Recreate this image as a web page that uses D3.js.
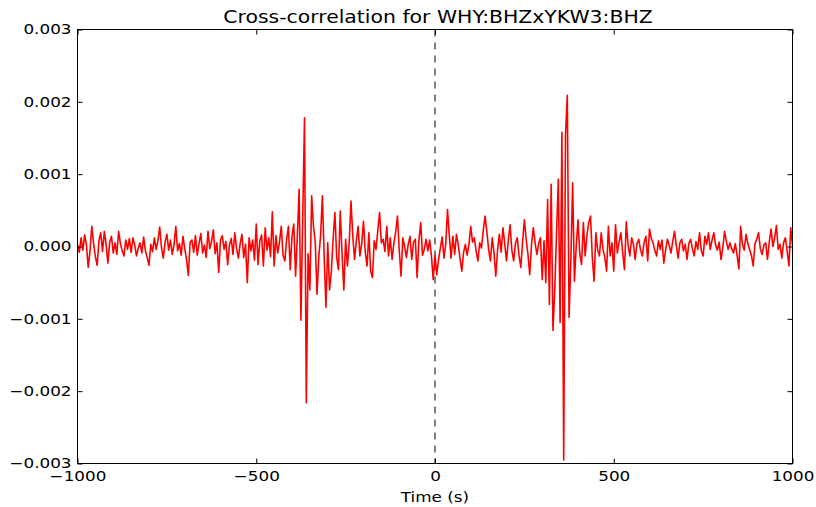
<!DOCTYPE html>
<html>
<head>
<meta charset="utf-8">
<script src="https://cdn.jsdelivr.net/npm/d3@7"></script>
<style>
  html, body { margin: 0; padding: 0; background: #fff; }
  svg { display: block; }
</style>
</head>
<body>
<svg id="chart" width="816" height="507"></svg>
<script>
// Cross-correlation WHY:BHZ x YKW3:BHZ, in units of 1e-4, one sample every 5 s of lag
const corrE4 = [
  0.3, -0.8, 1.2, -0.5, 1.6, 0.2, -2.9, -0.6, 2.8, 0.4, -1.4, -2.6, 0.8, 1.9, -0.7, 2.1, 0.3, -2.3, 0.6, 1.4,
  -0.9, 0.5, -1.1, 2.1, 0.4, -0.6, -1.3, 0.9, -0.4, 1.1, -0.8, 1.2, 0.2, -1.3, -0.2, 0.5, -0.9, 1.3, -0.6, -1.5,
  -2.6, 0.3, -0.7, 1.2, -0.4, 0.8, 2.7, -0.2, -1.6, 0.6, 1.7, -0.5, 0.9, -1.1, 0.2, 2.8, -0.6, 0.4, -1.2, 1.4,
  -0.3, -1.8, -4.0, 0.6, 0.9, -0.8, 1.5, -1.2, 0.4, 1.8, -0.9, 0.2, -1.5, 2.1, -0.3, 0.7, 2.3, -1.0, 0.5, -3.6,
  0.9, 1.5, -0.4, 0.7, -2.5, 0.2, 1.1, -1.1, 1.9, -0.3, -1.6, 0.4, 1.7, -1.5, 0.3, -5.0, 1.2, -0.6, 0.9, -1.9,
  3.1, -2.5, 0.8, 1.6, -2.7, 2.6, -0.5, 1.2, -1.4, 4.8, -2.7, 1.5, -0.9, 0.6, 2.8, -1.2, -2.0, 1.0, 2.8, -3.2,
  1.4, 3.1, -4.1, 1.5, 7.9, -10.2, 4.0, 17.8, -21.6, -1.0, -6.0, 7.0, 2.8, 0.7, -6.6, -1.4, 1.5, 7.0, -1.4, -8.4,
  0.5, -6.0, -3.5, 1.0, 4.7, -1.5, -3.2, 4.9, -1.0, -6.0, 1.0, -2.7, 0.5, 6.3, 1.5, -1.8, 0.8, 2.8, -1.3, 0.4,
  3.5, -0.8, -2.7, 1.9, -3.4, -4.3, 0.8, -0.4, 2.2, 4.7, 0.5, 1.0, -0.7, 2.8, -1.3, 1.2, -1.8, 0.5, 2.0, 4.2,
  -0.5, -4.1, 1.2, 0.0, -1.5, 0.3, 1.4, -1.8, 0.6, 1.0, -4.3, 0.8, 3.3, -1.2, -0.4, 1.0, -0.6, 0.9, -1.3, -4.6,
  -1.2, -3.9, -1.8, -0.2, 1.3, -1.6, 0.3, 5.1, 1.5, -1.6, 1.4, -1.1, 1.7, 0.2, -1.6, -3.4, -0.8, 0.3, -1.2, 0.3,
  2.8, 0.6, 1.2, -0.6, -2.0, 0.5, -0.2, 2.2, 4.2, 2.1, -0.4, -2.0, 1.2, -0.8, -4.1, -0.5, 1.7, -0.8, 2.6, 0.4,
  -2.0, 0.8, 3.0, -0.5, -2.0, 0.4, 1.2, -1.2, -2.9, 0.6, 3.7, 1.0, -1.1, -3.9, 0.3, 2.6, 0.5, -1.1, 0.4, 1.2,
  -4.6, 0.8, -5.0, 6.5, -8.0, 8.6, -11.6, -6.0, 2.0, 9.3, -10.5, 15.8, -29.5, 15.3, 20.9, -9.8, -2.0, 8.8, -4.8, 0.0,
  3.7, -1.0, -2.5, 3.3, -1.3, 1.5, 3.3, 4.2, -1.5, -4.8, 1.9, -0.5, -1.3, 1.9, -0.4, -1.5, -3.4, 2.8, -1.3, 0.5,
  -3.4, 3.0, -0.9, 0.6, 1.9, -0.8, -3.2, 3.4, 0.2, -1.3, 1.2, 0.3, -1.8, 0.4, 1.0, -0.5, -1.3, 0.6, 1.4, -2.0,
  2.4, 1.1, 0.5, -0.6, -1.3, 0.8, -0.4, 0.9, -2.3, -0.5, 1.0, 0.2, -0.9, 0.7, 2.1, 0.2, -1.6, 0.5, 1.0, -0.6,
  0.3, -1.8, 0.4, 1.0, -0.3, -1.3, 0.7, -0.4, 1.9, -0.6, -1.3, 1.4, 0.3, 1.9, -0.4, 0.9, 1.9, 0.2, -0.5, 0.6,
  -1.8, -0.2, 2.1, 0.7, -0.4, 0.5, -0.3, -0.9, 0.4, -1.2, -3.1, 2.8, 0.3, -0.5, 1.7, 0.4, -0.4, -1.2, -2.7, 0.4,
  1.0, 1.9, -0.3, -1.1, 0.2, 0.5, -1.8, 0.6, 2.4, 0.0, 1.2, 2.9, -0.4, 0.3, -1.6, 0.5, 1.2, -0.6, -2.7, 2.6,
  0.1
];
const corrUnit = 1e-4;
const lagStart = -1000;
const lagEnd = 1000;

const xTicks = [-1000, -500, 0, 500, 1000];
const yTicks = [-0.003, -0.002, -0.001, 0, 0.001, 0.002, 0.003];
const yDomain = [-0.003, 0.003];
const titleText = "Cross-correlation for WHY:BHZxYKW3:BHZ";
const xLabelText = "Time (s)";

// Layout
const box = { left: 77.5, right: 792.5, top: 29.5, bottom: 463.5 };
const SX = 1.2;            // horizontal widening of the glyphs
const FONT = "'DejaVu Sans', 'Liberation Sans', sans-serif";
const tickLen = 5;

const lagStep = (lagEnd - lagStart) / (corrE4.length - 1);
const series = corrE4.map((v, i) => ({ lag: lagStart + i * lagStep, value: v * corrUnit }));

const svg = d3.select("#chart");
svg.append("rect").attr("width", 816).attr("height", 507).attr("fill", "#fff");

const x = d3.scaleLinear().domain([lagStart, lagEnd]).range([box.left, box.right]);
const y = d3.scaleLinear().domain(yDomain).range([box.bottom, box.top]);

svg.append("defs").append("clipPath").attr("id", "plotClip")
  .append("rect")
  .attr("x", box.left).attr("y", box.top)
  .attr("width", box.right - box.left).attr("height", box.bottom - box.top);

// zero-lag marker
svg.append("line")
  .attr("x1", x(0)).attr("x2", x(0))
  .attr("y1", y(yDomain[1])).attr("y2", y(yDomain[0]))
  .attr("stroke", "#000").attr("stroke-width", 1)
  .attr("stroke-dasharray", "7,6");

// correlation trace
const line = d3.line().x(d => x(d.lag)).y(d => y(d.value));
svg.append("path")
  .datum(series)
  .attr("clip-path", "url(#plotClip)")
  .attr("d", line)
  .attr("fill", "none")
  .attr("stroke", "#ff0000")
  .attr("stroke-width", 1.6)
  .attr("stroke-linejoin", "round");

// axes with inward ticks on all four sides
const fmtX = d3.format("d");
const fmtY = d3.format(".3f");

const gBottom = svg.append("g").attr("transform", `translate(0,${box.bottom})`)
  .call(d3.axisBottom(x).tickValues(xTicks).tickFormat(fmtX).tickSizeInner(-tickLen).tickSizeOuter(0).tickPadding(8));
const gTop = svg.append("g").attr("transform", `translate(0,${box.top})`)
  .call(d3.axisTop(x).tickValues(xTicks).tickFormat("").tickSizeInner(-tickLen).tickSizeOuter(0));
const gLeft = svg.append("g").attr("transform", `translate(${box.left},0)`)
  .call(d3.axisLeft(y).tickValues(yTicks).tickFormat(fmtY).tickSizeInner(-tickLen).tickSizeOuter(0).tickPadding(6));
const gRight = svg.append("g").attr("transform", `translate(${box.right},0)`)
  .call(d3.axisRight(y).tickValues(yTicks).tickFormat("").tickSizeInner(-tickLen).tickSizeOuter(0));

[gBottom, gTop, gLeft, gRight].forEach(g => {
  g.select(".domain").remove();
  g.selectAll(".tick line").attr("stroke", "#000").attr("stroke-width", 1);
  g.selectAll("text").attr("font-family", FONT).attr("font-size", 14).attr("fill", "#000");
});

gBottom.selectAll(".tick text").attr("transform", `scale(${SX},1)`);
gLeft.selectAll(".tick text")
  .attr("x", -6 / SX)
  .attr("transform", `scale(${SX},1)`);

// frame
svg.append("rect")
  .attr("x", box.left).attr("y", box.top)
  .attr("width", box.right - box.left).attr("height", box.bottom - box.top)
  .attr("fill", "none").attr("stroke", "#000").attr("stroke-width", 1);

// title and axis label
svg.append("text")
  .attr("transform", `translate(${(box.left + box.right) / 2 + 3},22.5) scale(${SX},1)`)
  .attr("text-anchor", "middle")
  .attr("font-family", FONT).attr("font-size", 17).attr("fill", "#000")
  .text(titleText);

svg.append("text")
  .attr("transform", `translate(${x(0)},502) scale(${SX},1)`)
  .attr("text-anchor", "middle")
  .attr("font-family", FONT).attr("font-size", 14).attr("fill", "#000")
  .text(xLabelText);
</script>
</body>
</html>
